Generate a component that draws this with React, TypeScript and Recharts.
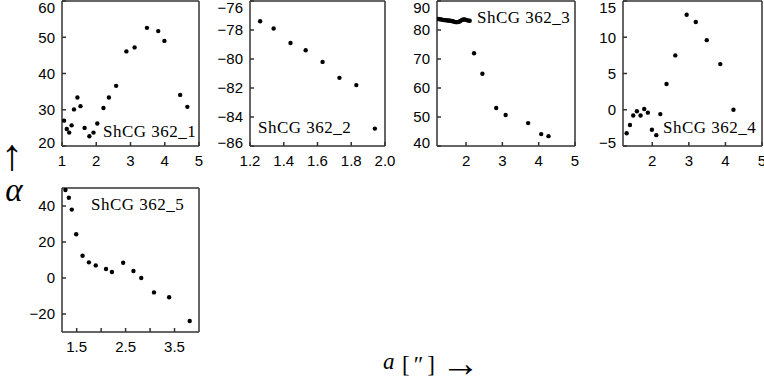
import { ScatterChart, Scatter, XAxis, YAxis } from 'recharts';

// ShCG 362_1
const p1X = [1.06, 1.14, 1.21, 1.28, 1.35, 1.45, 1.54, 1.66, 1.8, 1.92, 2.03, 2.21, 2.37, 2.58, 2.88, 3.12, 3.48, 3.81, 3.99, 4.45, 4.66];
const p1Y = [27.0, 24.7, 23.7, 25.7, 30.1, 33.4, 31.0, 25.0, 22.7, 23.7, 26.2, 30.5, 33.4, 36.6, 46.1, 47.2, 52.6, 51.7, 49.0, 34.1, 30.8];

// ShCG 362_2
const p2X = [1.26, 1.34, 1.44, 1.53, 1.63, 1.73, 1.83, 1.94];
const p2Y = [-77.4, -77.9, -78.9, -79.4, -80.2, -81.3, -81.8, -84.8];

// ShCG 362_3
const p3X = [1.24, 1.28, 1.32, 1.36, 1.4, 1.44, 1.48, 1.52, 1.56, 1.6, 1.64, 1.68, 1.72, 1.76, 1.8, 1.84, 1.88, 1.92, 1.96, 2.0, 2.05, 2.1, 2.22, 2.45, 2.83, 3.09, 3.71, 4.07, 4.27];
const p3Y = [83.8, 83.7, 83.6, 83.5, 83.4, 83.4, 83.3, 83.3, 83.2, 83.1, 83.0, 82.8, 82.7, 82.7, 82.8, 83.1, 83.4, 83.6, 83.6, 83.5, 83.3, 83.2, 72.0, 64.9, 53.1, 50.7, 47.9, 44.1, 43.4];

// ShCG 362_4
const p4X = [1.3, 1.39, 1.48, 1.58, 1.68, 1.78, 1.88, 1.99, 2.11, 2.22, 2.39, 2.63, 2.94, 3.19, 3.49, 3.86, 4.22];
const p4Y = [-3.25, -2.1, -0.8, -0.2, -0.8, 0.1, -0.4, -2.75, -3.5, -0.6, 3.55, 7.5, 13.1, 12.1, 9.6, 6.3, 0.0];

// ShCG 362_5
const p5X = [1.27, 1.34, 1.4, 1.49, 1.62, 1.75, 1.89, 2.1, 2.22, 2.45, 2.66, 2.82, 3.08, 3.39, 3.81];
const p5Y = [48.9, 44.6, 38.0, 24.3, 12.4, 8.7, 7.0, 5.0, 3.3, 8.5, 3.9, 0.0, -8.0, -10.7, -23.9];

const toPoints = (xs: number[], ys: number[]) => xs.map((x, i) => ({ x, y: ys[i] }));

const FRAME = '#333';
const tickFont = { fontSize: 15, fontFamily: 'Liberation Sans, Arial, sans-serif', fill: '#000' };

const fmtNum = (v: number) => (v < 0 ? '\u2212' + String(-v) : String(v));

function Dot(props: any) {
    return <circle cx={props.cx} cy={props.cy} r={2.2} fill="#000" />;
}

function Nothing() {
    return <g />;
}

// y tick labels at the ends of the axis are pulled inside the frame, as in the original plot
function makeYTick(top: number, bottom: number) {
    return (props: any) => {
        const { x, y, payload } = props;
        const ty = Math.min(Math.max(y, top + 7), bottom - 3);
        return (
            <text x={x} y={ty} dy="0.355em" textAnchor="end" style={tickFont}>
                {fmtNum(payload.value)}
            </text>
        );
    };
}

interface Box {
    x: number;
    y: number;
    w: number;
    h: number;
}

interface PanelProps {
    box: Box;
    xs: number[];
    ys: number[];
    xDomain: [number, number];
    yDomain: [number, number];
    xTicks: number[];
    yTicks: number[];
    xFormat?: (v: number) => string;
}

function Panel({ box, xs, ys, xDomain, yDomain, xTicks, yTicks, xFormat }: PanelProps) {
    const L = 45;
    const R = 20;
    const T = 8;
    const B = 28;
    const data = toPoints(xs, ys);
    return (
        <div style={{ position: 'absolute', left: box.x - L, top: box.y - T }}>
            <ScatterChart width={box.w + L + R} height={box.h + T + B} margin={{ top: 0, right: 0, bottom: 0, left: 0 }}>
                <XAxis
                    xAxisId="b"
                    dataKey="x"
                    type="number"
                    domain={xDomain}
                    ticks={xTicks}
                    interval={0}
                    allowDataOverflow
                    orientation="bottom"
                    height={B}
                    tickSize={-4}
                    tickMargin={13}
                    tick={tickFont}
                    stroke={FRAME}
                    strokeWidth={1.5}
                    tickFormatter={xFormat || fmtNum}
                />
                <XAxis
                    xAxisId="t"
                    dataKey="x"
                    type="number"
                    domain={xDomain}
                    ticks={xTicks}
                    interval={0}
                    allowDataOverflow
                    orientation="top"
                    height={T}
                    tickSize={-4}
                    tick={false}
                    stroke={FRAME}
                    strokeWidth={1.5}
                />
                <YAxis
                    yAxisId="l"
                    dataKey="y"
                    type="number"
                    domain={yDomain}
                    ticks={yTicks}
                    interval={0}
                    allowDataOverflow
                    width={L}
                    tickSize={-4}
                    tickMargin={11}
                    tick={makeYTick(T, T + box.h)}
                    stroke={FRAME}
                    strokeWidth={1.5}
                />
                <YAxis
                    yAxisId="r"
                    dataKey="y"
                    type="number"
                    domain={yDomain}
                    ticks={yTicks}
                    interval={0}
                    allowDataOverflow
                    orientation="right"
                    width={R}
                    tickSize={-4}
                    tick={false}
                    stroke={FRAME}
                    strokeWidth={1.5}
                />
                <Scatter data={data} xAxisId="b" yAxisId="l" shape={Dot} isAnimationActive={false} />
                <Scatter data={data} xAxisId="t" yAxisId="r" shape={Nothing} isAnimationActive={false} />
            </ScatterChart>
        </div>
    );
}

const labelStyle = { fontFamily: 'Liberation Serif, Times New Roman, serif', fontSize: 17, letterSpacing: 0.5, fill: '#000' };

export default function App() {
    return (
        <div style={{ position: 'absolute', left: 0, top: 0, width: 764, height: 385, overflow: 'hidden', background: '#fff' }}>
            <Panel box={{ x: 62, y: 1, w: 137, h: 145 }} xs={p1X} ys={p1Y} xDomain={[1, 5]} yDomain={[20, 60]} xTicks={[1, 2, 3, 4, 5]} yTicks={[20, 30, 40, 50, 60]} />
            <Panel
                box={{ x: 250, y: 1, w: 135, h: 145 }}
                xs={p2X}
                ys={p2Y}
                xDomain={[1.2, 2.0]}
                yDomain={[-86, -76]}
                xTicks={[1.2, 1.4, 1.6, 1.8, 2.0]}
                yTicks={[-86, -84, -82, -80, -78, -76]}
                xFormat={(v) => v.toFixed(1)}
            />
            <Panel box={{ x: 437, y: 1, w: 138, h: 145 }} xs={p3X} ys={p3Y} xDomain={[1.2, 5]} yDomain={[40, 90]} xTicks={[2, 3, 4, 5]} yTicks={[40, 50, 60, 70, 80, 90]} />
            <Panel box={{ x: 623, y: 1, w: 139, h: 145 }} xs={p4X} ys={p4Y} xDomain={[1.2, 5]} yDomain={[-5, 15]} xTicks={[2, 3, 4, 5]} yTicks={[-5, 0, 5, 10, 15]} />
            <Panel
                box={{ x: 62, y: 188, w: 137, h: 144 }}
                xs={p5X}
                ys={p5Y}
                xDomain={[1.2, 4.0]}
                yDomain={[-30, 50]}
                xTicks={[1.5, 2.0, 2.5, 3.0, 3.5]}
                yTicks={[-20, 0, 20, 40]}
                xFormat={(v) => (v === 1.5 || v === 2.5 || v === 3.5 ? v.toFixed(1) : '')}
            />
            <svg width={764} height={385} style={{ position: 'absolute', left: 0, top: 0, pointerEvents: 'none' }}>
                <text x={103} y={137} style={labelStyle}>ShCG 362_1</text>
                <text x={258} y={133} style={labelStyle}>ShCG 362_2</text>
                <text x={477} y={22.5} style={labelStyle}>ShCG 362_3</text>
                <text x={663} y={133} style={labelStyle}>ShCG 362_4</text>
                <text x={91} y={210} style={labelStyle}>ShCG 362_5</text>
                <text x={12} y={170} textAnchor="middle" style={{ fontFamily: 'Liberation Sans, Arial, sans-serif', fontSize: 44, fill: '#000' }}>↑</text>
                <text x={14} y={201} textAnchor="middle" style={{ fontFamily: 'Liberation Serif, serif', fontStyle: 'italic', fontSize: 33, fill: '#000' }}>α</text>
                <text x={383} y={369} style={{ fontFamily: 'Liberation Serif, serif', fontStyle: 'italic', fontSize: 23, fill: '#000' }}>a</text>
                <text x={402} y={372} style={{ fontFamily: 'Liberation Serif, serif', fontSize: 23, letterSpacing: 4, fill: '#000' }}>[″]</text>
                <text x={441} y={376} style={{ fontFamily: 'Liberation Sans, Arial, sans-serif', fontSize: 39, fill: '#000' }}>→</text>
            </svg>
        </div>
    );
}
